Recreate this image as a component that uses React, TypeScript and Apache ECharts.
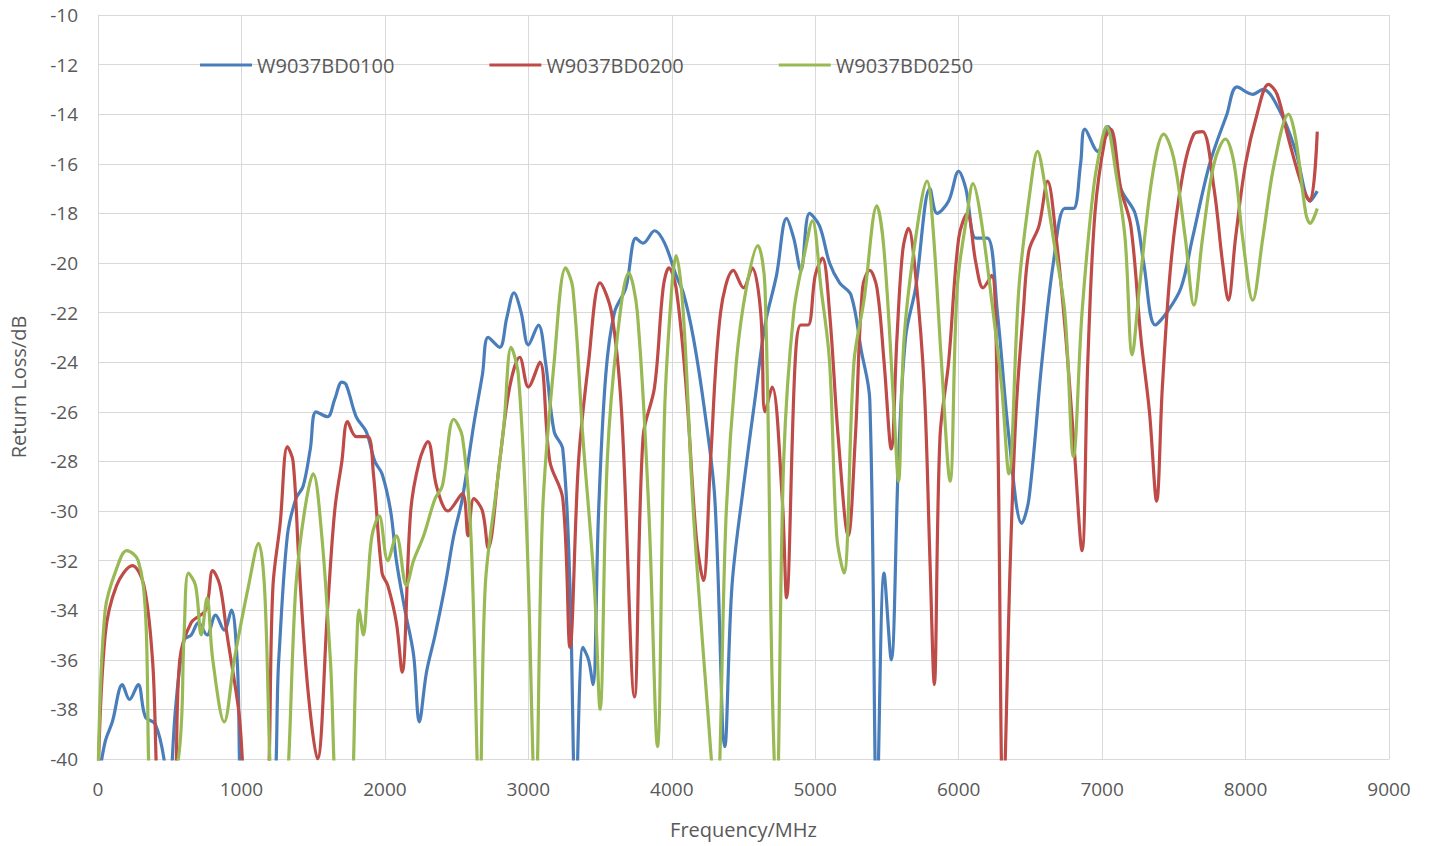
import { useEffect, useRef } from 'react';
import * as echarts from 'echarts';

const seriesNames = ['W9037BD0100', 'W9037BD0200', 'W9037BD0250'];
const colors = ['#4A7EBB', '#BE4B48', '#98B954'];

// [frequency MHz, return loss dB]
const blue: number[][] = [
  [0, -41], [50, -39.3], [100, -38.5], [170, -37], [220, -37.6], [280, -37], [330, -38.3], [400, -38.6], [460, -40], [490, -42],
  [540, -38], [600, -35.2], [650, -35], [700, -34.5], [760, -35], [820, -34.2], [880, -34.8], [930, -34], [970, -36], [1020, -42],
  [1200, -42], [1260, -36], [1320, -31], [1380, -29.5], [1430, -29], [1480, -27.5], [1520, -26], [1600, -26.2], [1650, -25.5],
  [1700, -24.8], [1730, -24.9], [1800, -26.2], [1870, -26.8], [1930, -28], [1980, -28.5], [2040, -30], [2080, -32], [2140, -34],
  [2200, -35.8], [2240, -38.5], [2290, -36.5], [2350, -35], [2420, -33], [2480, -31], [2540, -29.5], [2620, -26.5], [2680, -24.5],
  [2720, -23], [2800, -23.4], [2850, -22.2], [2900, -21.2], [2950, -22], [3000, -23.3], [3070, -22.5], [3120, -24], [3180, -26.8],
  [3240, -27.5], [3290, -33], [3330, -42], [3380, -35.5], [3420, -36], [3450, -37], [3490, -30], [3540, -24.5], [3600, -22],
  [3680, -21], [3750, -19], [3800, -19.2], [3880, -18.7], [3950, -19.2], [4030, -20.5], [4080, -21.2], [4150, -23],
  [4230, -26], [4300, -29.5], [4370, -39.5], [4420, -33], [4500, -29], [4580, -25.5], [4650, -22.5], [4730, -20.5], [4800, -18.2],
  [4850, -19], [4900, -20.3], [4960, -18], [5030, -18.5], [5100, -20], [5170, -20.8], [5250, -21.3], [5320, -23.5], [5380, -25.5],
  [5430, -42], [5480, -32.5], [5530, -36], [5580, -28], [5630, -23], [5700, -21], [5800, -17], [5850, -18], [5930, -17.5],
  [6000, -16.3], [6050, -17], [6120, -19], [6200, -19], [6270, -22], [6350, -27], [6440, -30.5], [6490, -29.5], [6580, -24],
  [6660, -20], [6740, -17.8], [6800, -17.8], [6850, -16], [6880, -14.6], [6970, -15.5], [7040, -14.5], [7130, -17], [7230, -18],
  [7290, -20], [7370, -22.5], [7450, -22], [7550, -21], [7630, -19], [7750, -16], [7870, -14], [7940, -12.9], [8050, -13.2],
  [8120, -13], [8250, -14], [8350, -15.5], [8450, -17.5], [8500, -17.1],
];

const red: number[][] = [
  [0, -41], [50, -35], [130, -33], [240, -32.2], [320, -33], [380, -36], [440, -42],
  [520, -42], [570, -36], [650, -34.5], [750, -34], [800, -32.4], [850, -33], [900, -35], [980, -38], [1060, -42],
  [1160, -42], [1220, -33], [1270, -30.5], [1320, -27.4], [1360, -28], [1400, -32], [1460, -37], [1530, -40], [1600, -34],
  [1650, -30], [1700, -28], [1740, -26.4], [1800, -27], [1880, -27], [1920, -28.5], [1980, -32.5], [2020, -33], [2080, -34.5],
  [2120, -36.5], [2180, -30], [2240, -28], [2300, -27.2], [2360, -29], [2440, -30], [2540, -29.3], [2580, -31], [2620, -29.5],
  [2680, -30], [2720, -31.5], [2800, -28], [2870, -25], [2940, -23.8], [3000, -25], [3080, -24], [3150, -28], [3240, -29.5],
  [3290, -35.5], [3350, -28], [3420, -24], [3500, -20.8], [3580, -22], [3650, -26], [3740, -37.5], [3800, -27], [3880, -25],
  [3940, -21], [3980, -20.2], [4030, -21], [4100, -25], [4170, -31], [4220, -32.8], [4270, -28], [4340, -22], [4430, -20.3],
  [4500, -21], [4560, -20.2], [4620, -22], [4650, -26], [4700, -25], [4770, -29.5], [4800, -33.5], [4860, -24], [4900, -22.5],
  [4950, -22.5], [5000, -20.5], [5050, -19.8], [5100, -22], [5160, -27], [5230, -31], [5280, -27], [5330, -21], [5380, -20.3],
  [5430, -21], [5480, -24], [5530, -27.5], [5570, -23], [5610, -19.5], [5650, -18.6], [5700, -20.5], [5760, -25], [5800, -32],
  [5830, -37], [5870, -27], [5930, -24], [6000, -19], [6060, -18], [6120, -20], [6170, -21], [6230, -20.5], [6270, -26],
  [6310, -42], [6360, -32], [6400, -26], [6450, -22], [6490, -19.5], [6560, -18.5], [6620, -16.7], [6680, -19], [6740, -22.5],
  [6800, -27], [6860, -31.6], [6900, -24], [6950, -18], [7020, -15], [7060, -14.6], [7130, -17], [7200, -18.5], [7270, -23],
  [7330, -26], [7380, -29.6], [7420, -25], [7480, -20], [7560, -16.5], [7640, -14.8], [7700, -14.7], [7780, -17], [7840, -20],
  [7880, -21.5], [7930, -19], [8000, -16], [8080, -14], [8160, -12.8], [8220, -13.2], [8300, -15], [8400, -17], [8450, -17.5],
  [8500, -14.7],
];

const green: number[][] = [
  [0, -41], [50, -34], [150, -32], [200, -31.6], [280, -32], [330, -34], [390, -42],
  [560, -40], [600, -35], [630, -32.5], [680, -33], [720, -35], [760, -33.5], [800, -36], [880, -38.5], [950, -36],
  [1050, -33], [1120, -31.3], [1160, -33], [1230, -42], [1290, -42], [1380, -33], [1440, -30], [1500, -28.5], [1560, -31],
  [1620, -36], [1680, -42], [1750, -42], [1800, -36], [1820, -34], [1850, -35], [1880, -33], [1910, -31], [1960, -30.2],
  [2020, -32], [2080, -31], [2150, -33], [2200, -32], [2270, -31], [2350, -29.5], [2400, -29], [2480, -26.3], [2540, -27],
  [2600, -31], [2660, -42], [2700, -33], [2780, -29], [2830, -26.5], [2880, -23.4], [2930, -24.5], [2990, -31], [3050, -42],
  [3100, -30], [3180, -24], [3260, -20.2], [3310, -21], [3380, -27], [3460, -33], [3500, -38], [3550, -28], [3620, -23],
  [3700, -20.4], [3760, -22], [3840, -30], [3900, -39.5], [3950, -26], [4000, -21], [4030, -19.7], [4080, -22], [4150, -30],
  [4250, -38], [4310, -42], [4380, -30], [4450, -24], [4520, -21], [4600, -19.3], [4650, -21], [4700, -37], [4730, -42],
  [4780, -28], [4850, -22], [4930, -19.5], [4980, -18.3], [5040, -21], [5100, -24], [5150, -31], [5200, -32.5], [5270, -24],
  [5340, -21.5], [5430, -17.7], [5480, -19.5], [5550, -26], [5580, -28.8], [5620, -23], [5700, -19], [5780, -16.7],
  [5820, -18.5], [5880, -24], [5940, -28.8], [5990, -21], [6060, -18], [6100, -16.8], [6150, -18], [6230, -21.5], [6300, -25],
  [6350, -28.5], [6420, -21], [6500, -17], [6550, -15.5], [6600, -16.8], [6660, -19], [6740, -22], [6800, -27.8], [6860, -22],
  [6940, -17], [7000, -15], [7030, -14.5], [7100, -16.5], [7160, -19], [7210, -23.7], [7260, -21], [7350, -16.5], [7430, -14.8],
  [7500, -15.8], [7580, -19], [7640, -21.7], [7700, -19], [7780, -16], [7860, -15], [7920, -16], [7980, -19], [8050, -21.5],
  [8120, -19], [8200, -16], [8300, -14], [8350, -15], [8420, -18], [8450, -18.4], [8500, -17.8],
];

const seriesData = [blue, red, green];

export default function App() {
  const chartRef = useRef<HTMLDivElement>(null);

  useEffect(() => {
    if (!chartRef.current) return;
    const chart = echarts.init(chartRef.current, null, { renderer: 'svg' });
    const font = '"Open Sans", sans-serif';

    chart.setOption({
      animation: false,
      color: colors,
      textStyle: { fontFamily: font },
      grid: { left: 96, right: 43, top: 15, bottom: 87 },
      legend: {
        data: seriesNames,
        top: 50,
        left: 195,
        itemGap: 95,
        itemWidth: 52,
        itemHeight: 3,
        icon: 'rect',
        textStyle: { fontSize: 20, color: '#595959', fontFamily: font },
      },
      xAxis: {
        type: 'value',
        min: 0,
        max: 9000,
        interval: 1000,
        name: 'Frequency/MHz',
        nameLocation: 'middle',
        nameGap: 60,
        nameTextStyle: { fontSize: 20, color: '#595959' },
        axisLine: { lineStyle: { color: '#d9d9d9' } },
        axisTick: { show: false },
        axisLabel: { fontSize: 19, color: '#595959', margin: 20, formatter: (v: number) => String(v) },
        splitLine: { show: true, lineStyle: { color: '#d9d9d9' } },
      },
      yAxis: {
        type: 'value',
        min: -40,
        max: -10,
        interval: 2,
        name: 'Return Loss/dB',
        nameLocation: 'middle',
        nameGap: 70,
        nameTextStyle: { fontSize: 20, color: '#595959' },
        axisLine: { show: true, lineStyle: { color: '#d9d9d9' } },
        axisTick: { show: false },
        axisLabel: { fontSize: 19, color: '#595959', margin: 20 },
        splitLine: { show: true, lineStyle: { color: '#d9d9d9' } },
      },
      series: seriesNames.map((name, i) => ({
        name,
        type: 'line',
        data: seriesData[i],
        showSymbol: false,
        smooth: 0.35,
        clip: true,
        lineStyle: { width: 3.2 },
      })),
    });

    return () => chart.dispose();
  }, []);

  return (
    <div
      ref={chartRef}
      style={{ position: 'fixed', left: 0, top: 0, width: 1432, height: 846, background: '#fff' }}
    />
  );
}
